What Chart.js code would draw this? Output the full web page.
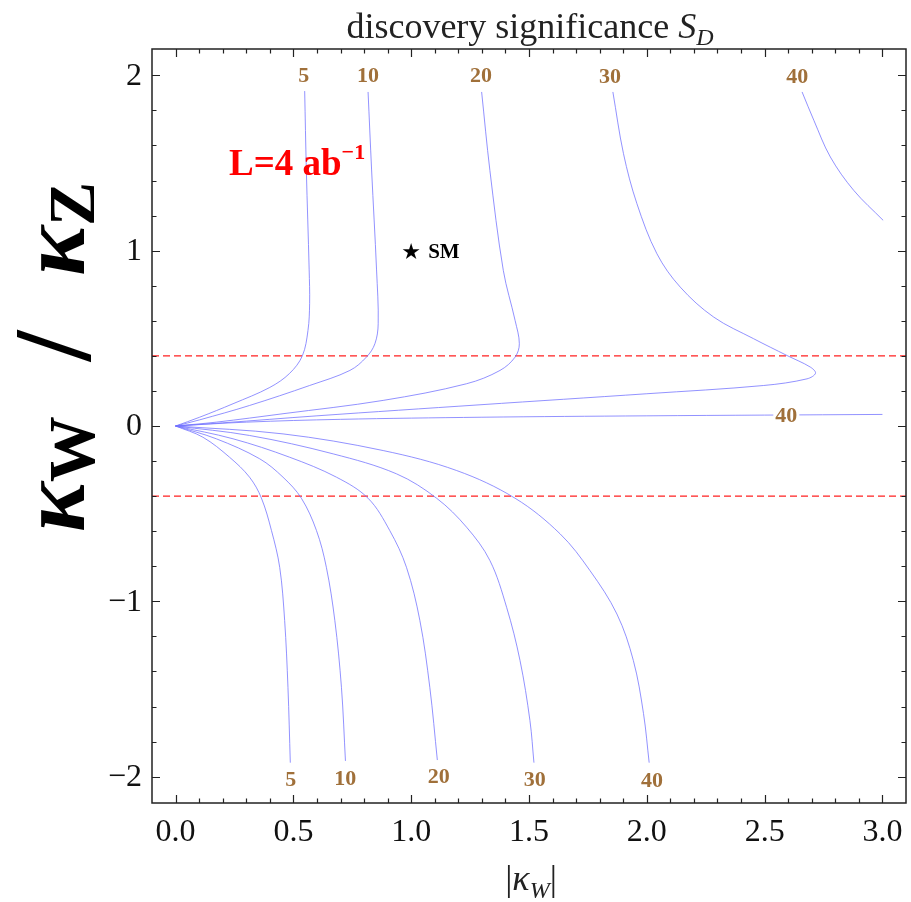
<!DOCTYPE html>
<html>
<head>
<meta charset="utf-8">
<script src="https://cdn.jsdelivr.net/npm/chart.js@4.4.1/dist/chart.umd.min.js"></script>
<style>
  html, body { margin: 0; padding: 0; background: #fff; }
  #wrap { width: 911px; height: 902px; }
</style>
</head>
<body>
<div id="wrap"><canvas id="contourChart" width="911" height="902"></canvas></div>
<script>
// axis ranges and ticks
const xRange = [-0.1, 3.1];
const yRange = [-2.15, 2.15];
const xTicks = [0, 0.5, 1, 1.5, 2, 2.5, 3];
const xTickLabels = ["0.0", "0.5", "1.0", "1.5", "2.0", "2.5", "3.0"];
const yTicks = [-2, -1, 0, 1, 2];
const yTickLabels = ["\u22122", "\u22121", "0", "1", "2"];

// contour lines of S_D as [|kW|, kW/kZ]
const level5Upper = [[0.548, 1.91], [0.555, 1.46], [0.567, 0.89], [0.569, 0.70], [0.562, 0.545], [0.538, 0.40], [0.484, 0.30], [0.40, 0.22], [0.244, 0.127], [0.102, 0.05], [0, 0]];
const level5Lower = [[0, 0], [0.116, -0.064], [0.229, -0.178], [0.314, -0.292], [0.364, -0.41], [0.407, -0.596], [0.442, -0.806], [0.463, -1.11], [0.477, -1.49], [0.487, -1.92]];
const level10Upper = [[0.817, 1.905], [0.832, 1.46], [0.853, 0.89], [0.86, 0.583], [0.846, 0.469], [0.81, 0.393], [0.74, 0.317], [0.569, 0.231], [0.314, 0.117], [0.102, 0.035], [0, 0]];
const level10Lower = [[0, 0], [0.173, -0.073], [0.357, -0.187], [0.456, -0.292], [0.534, -0.412], [0.598, -0.596], [0.64, -0.806], [0.676, -1.11], [0.704, -1.49], [0.721, -1.91]];
const level20Upper = [[1.299, 1.905], [1.334, 1.458], [1.391, 0.887], [1.441, 0.602], [1.459, 0.469], [1.441, 0.393], [1.377, 0.317], [1.235, 0.241], [0.881, 0.146], [0.456, 0.07], [0.173, 0.022], [0, 0]];
const level20Lower = [[0, 0], [0.244, -0.073], [0.484, -0.178], [0.683, -0.292], [0.817, -0.412], [0.909, -0.596], [0.98, -0.806], [1.037, -1.11], [1.079, -1.49], [1.111, -1.905]];
const level30Upper = [[1.856, 1.905], [1.901, 1.553], [1.958, 1.268], [2.043, 0.982], [2.142, 0.792], [2.284, 0.621], [2.453, 0.498], [2.595, 0.402], [2.694, 0.336], [2.716, 0.301], [2.68, 0.269], [2.496, 0.231], [2.0, 0.184], [1.292, 0.121], [0.6, 0.058], [0.2, 0.018], [0, 0]];
const level30Lower = [[0, 0], [0.314, -0.054], [0.669, -0.159], [0.938, -0.273], [1.108, -0.412], [1.235, -0.577], [1.334, -0.767], [1.405, -1.034], [1.462, -1.338], [1.504, -1.68], [1.521, -1.92]];
const level40Upper = [[2.659, 1.905], [2.709, 1.743], [2.779, 1.534], [2.878, 1.344], [3.003, 1.173]];
const level40Middle = [[0, 0], [0.3, 0.022], [0.7, 0.038], [1.3, 0.05], [2.0, 0.058], [3.0, 0.066]];
const level40Lower = [[0, 0], [0.456, -0.045], [0.881, -0.14], [1.193, -0.254], [1.441, -0.412], [1.632, -0.615], [1.759, -0.825], [1.873, -1.072], [1.943, -1.338], [1.986, -1.64], [2.01, -1.92]];

// dashed cut lines and the SM point
const cutLines = [0.4, -0.4];
const smPoint = [1.0, 1.0];

// contour labels: text, |kW|, kW/kZ
const contourLabels = [
  ["5", 0.544, 2.0], ["10", 0.817, 2.0], ["20", 1.296, 2.0], ["30", 1.844, 1.994], ["40", 2.638, 1.994],
  ["5", 0.489, -2.017], ["10", 0.72, -2.01], ["20", 1.117, -2.0], ["30", 1.524, -2.017], ["40", 2.022, -2.02],
  ["40", 2.592, 0.06]
];

const toPts = arr => arr.map(([a, b]) => ({ x: a, y: b }));
const curveStyle = { borderColor: 'rgba(115,115,255,0.78)', borderWidth: 1, pointRadius: 0, tension: 0.35, fill: false };

const datasets = [
  level5Upper, level5Lower, level10Upper, level10Lower, level20Upper, level20Lower,
  level30Upper, level30Lower, level40Upper, level40Middle, level40Lower
].map(c => ({ ...curveStyle, data: toPts(c) }));

cutLines.forEach(v => datasets.push({
  data: [{ x: xRange[0], y: v }, { x: xRange[1], y: v }],
  borderColor: '#ff2020', borderWidth: 1.3, borderDash: [7, 4], pointRadius: 0, fill: false
}));

const serif = '"Liberation Serif", "Times New Roman", serif';

// draws pieces of text one after another: [text, font, dy]
function drawRun(ctx, parts, x, y, align) {
  let total = 0;
  parts.forEach(p => { ctx.font = p[1]; total += ctx.measureText(p[0]).width; });
  let cx = align === 'center' ? x - total / 2 : x;
  ctx.textAlign = 'left';
  parts.forEach(p => {
    ctx.font = p[1];
    ctx.fillText(p[0], cx, y + (p[2] || 0));
    cx += ctx.measureText(p[0]).width;
  });
}

const framePlugin = {
  id: 'frame',
  afterDatasetsDraw(chart) {
    const { ctx, chartArea: a, scales: { x, y } } = chart;
    ctx.save();

    // contour labels on white backing
    ctx.font = 'bold 22px ' + serif;
    ctx.textAlign = 'center';
    ctx.textBaseline = 'middle';
    contourLabels.forEach(([t, lx, ly]) => {
      const px = x.getPixelForValue(lx), py = y.getPixelForValue(ly);
      const w = ctx.measureText(t).width;
      ctx.fillStyle = '#fff';
      ctx.fillRect(px - w / 2 - 2, py - 9, w + 4, 18);
      ctx.fillStyle = '#a0703a';
      ctx.fillText(t, px, py + 1);
    });

    // SM star
    ctx.textBaseline = 'alphabetic';
    const sx = x.getPixelForValue(smPoint[0]), sy = y.getPixelForValue(smPoint[1]);
    ctx.fillStyle = '#000';
    ctx.font = '22px "DejaVu Sans"';
    ctx.textAlign = 'center';
    ctx.fillText('\u2605', sx, sy + 8);
    ctx.textAlign = 'left';
    ctx.font = 'bold 21px ' + serif;
    ctx.fillText('SM', sx + 17, sy + 7);

    // luminosity note
    ctx.fillStyle = '#ff0000';
    drawRun(ctx, [['L=4 ab', 'bold 37px ' + serif, 0], ['\u22121', 'bold 22px ' + serif, -16]], a.left + 77, 175, 'left');

    // frame
    ctx.strokeStyle = '#222';
    ctx.lineWidth = 1.5;
    ctx.strokeRect(a.left, a.top, a.right - a.left, a.bottom - a.top);

    // ticks, inward on all four sides
    ctx.lineWidth = 1.2;
    ctx.beginPath();
    for (let i = -1; i <= 31; i++) {
      const v = i / 10;
      if (v <= xRange[0] || v >= xRange[1]) continue;
      const px = Math.round(x.getPixelForValue(v)) + 0.5;
      const len = i % 5 === 0 ? 8 : 4.5;
      ctx.moveTo(px, a.bottom); ctx.lineTo(px, a.bottom - len);
      ctx.moveTo(px, a.top); ctx.lineTo(px, a.top + len);
    }
    for (let i = -11; i <= 11; i++) {
      const v = i / 5;
      if (v <= yRange[0] || v >= yRange[1]) continue;
      const py = Math.round(y.getPixelForValue(v)) + 0.5;
      const len = i % 5 === 0 ? 8 : 4.5;
      ctx.moveTo(a.left, py); ctx.lineTo(a.left + len, py);
      ctx.moveTo(a.right, py); ctx.lineTo(a.right - len, py);
    }
    ctx.stroke();

    // tick labels
    ctx.fillStyle = '#111';
    ctx.font = '32px ' + serif;
    ctx.textAlign = 'center';
    ctx.textBaseline = 'alphabetic';
    xTicks.forEach((v, i) => ctx.fillText(xTickLabels[i], x.getPixelForValue(v), a.bottom + 38));
    ctx.textAlign = 'right';
    ctx.textBaseline = 'middle';
    yTicks.forEach((v, i) => ctx.fillText(yTickLabels[i], a.left - 10, y.getPixelForValue(v) + 1));

    // title
    ctx.textBaseline = 'alphabetic';
    ctx.fillStyle = '#222';
    drawRun(ctx, [
      ['discovery significance ', '36px ' + serif, 0],
      ['S', 'italic 36px ' + serif, 0],
      ['D', 'italic 24px ' + serif, 7]
    ], 530, 38, 'center');

    // x axis title
    drawRun(ctx, [
      ['|', '36px ' + serif, 0],
      ['\u03ba', 'italic 36px ' + serif, 0],
      ['W', 'italic 24px ' + serif, 8],
      ['|', '36px ' + serif, 0]
    ], 531, 890, 'center');

    // y axis title, rotated
    ctx.save();
    ctx.translate(84, 357);
    ctx.rotate(-Math.PI / 2);
    ctx.fillStyle = '#000';
    drawRun(ctx, [
      ['\u03ba', 'italic bold 94px ' + serif, 0],
      ['W', 'bold 66px ' + serif, 10],
      ['\u2002/\u2002', 'bold 110px ' + serif, 6],
      ['\u03ba', 'italic bold 94px ' + serif, 0],
      ['Z', 'bold 66px ' + serif, 10]
    ], 0, 0, 'center');
    ctx.restore();

    ctx.restore();
  }
};

new Chart(document.getElementById('contourChart').getContext('2d'), {
  type: 'line',
  data: { datasets: datasets },
  options: {
    responsive: false,
    animation: false,
    devicePixelRatio: 1,
    layout: { padding: { left: 152, right: 5, top: 49, bottom: 99 } },
    plugins: { legend: { display: false }, tooltip: { enabled: false } },
    scales: {
      x: { type: 'linear', min: xRange[0], max: xRange[1], display: false },
      y: { type: 'linear', min: yRange[0], max: yRange[1], display: false }
    }
  },
  plugins: [framePlugin]
});
</script>
</body>
</html>
